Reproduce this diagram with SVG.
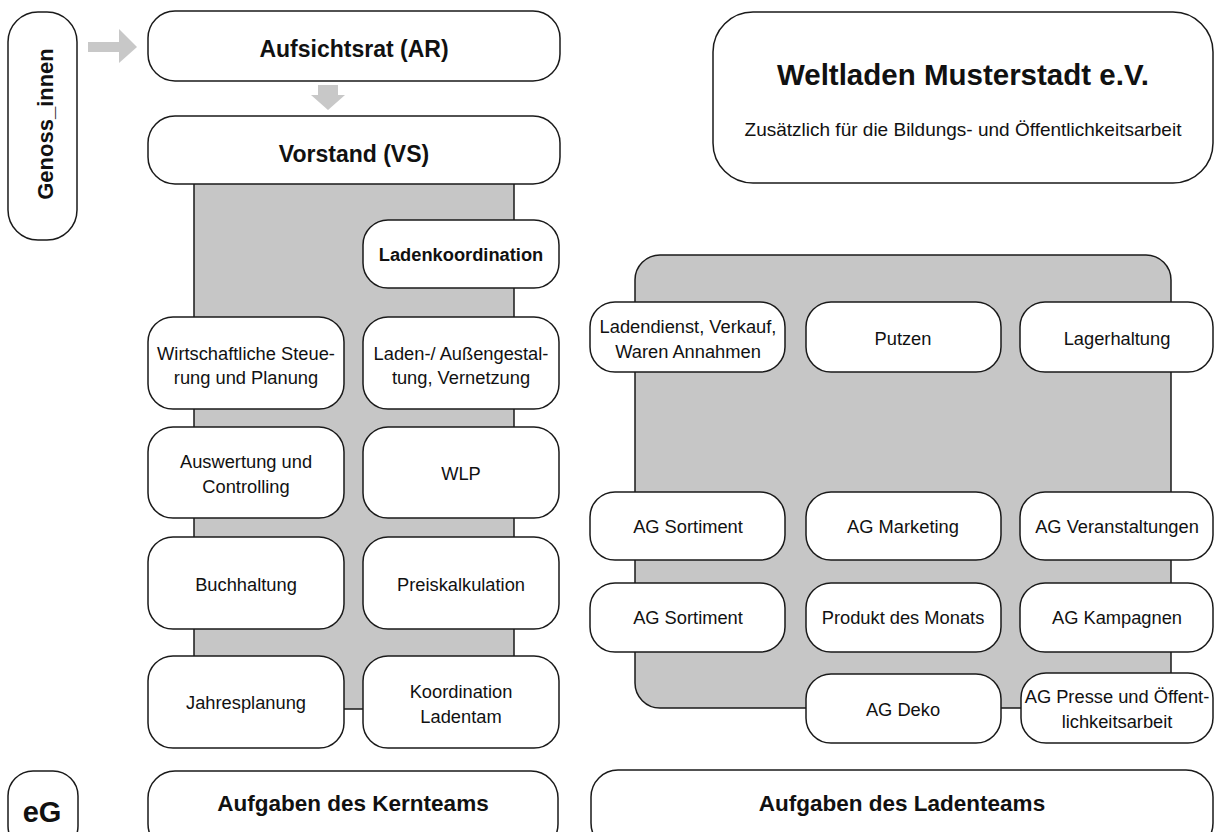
<svg xmlns="http://www.w3.org/2000/svg" width="1215" height="832" viewBox="0 0 1215 832">
<style>
.box{fill:#ffffff;stroke:#1a1a1a;stroke-width:1.5}
.panel{fill:#c6c6c6;stroke:#1a1a1a;stroke-width:1.5}
.arrow{fill:#c8c8c8;stroke:none}
text{font-family:"Liberation Sans",Arial,sans-serif;fill:#111111;text-anchor:middle}
.t{font-size:18.3px}
.b{font-size:23px;font-weight:bold}
.bb{font-size:22.5px;font-weight:bold}
.bs{font-size:18.3px;font-weight:bold}
</style>
<rect width="1215" height="832" fill="#ffffff"/>

<g id="backgrounds">
  <rect class="panel" x="194" y="170" width="320" height="539"/>
  <rect class="panel" x="635" y="255" width="536" height="453" rx="25" ry="25"/>
</g>

<g id="connectors">
  <polygon class="arrow" points="88,42 119,42 119,29 137,47 119,63 119,52 88,52"/>
  <polygon class="arrow" points="318,85 338,85 338,95 345,95 328,110 311,95 318,95"/>
</g>

<g id="genoss">
  <rect class="box" x="8" y="12" width="69" height="228" rx="30" ry="30"/>
  <text class="b" transform="translate(53,124) rotate(-90)" style="font-size:22px">Genoss_innen</text>
</g>

<g id="aufsichtsrat">
  <rect class="box" x="148" y="11" width="412" height="70" rx="27" ry="27"/>
  <text class="b" x="354" y="57">Aufsichtsrat (AR)</text>
</g>

<g id="vorstand">
  <rect class="box" x="148" y="116" width="412" height="68" rx="27" ry="27"/>
  <text class="b" x="354" y="162">Vorstand (VS)</text>
</g>

<g id="weltladen">
  <rect class="box" x="713" y="12" width="500" height="171" rx="40" ry="40"/>
  <text x="963" y="85" style="font-size:29.5px;font-weight:bold">Weltladen Musterstadt e.V.</text>
  <text x="963" y="136" style="font-size:19px">Zusätzlich für die Bildungs- und Öffentlichkeitsarbeit</text>
</g>

<g id="ladenkoordination">
  <rect class="box" x="363" y="220" width="196" height="68" rx="25" ry="25"/>
  <text class="bs" x="461" y="261">Ladenkoordination</text>
</g>

<g id="wirtschaftliche">
  <rect class="box" x="148" y="317" width="196" height="92" rx="25" ry="25"/>
  <text class="t" x="246" y="360">Wirtschaftliche Steue-</text>
  <text class="t" x="246" y="384">rung und Planung</text>
</g>
<g id="ladengestaltung">
  <rect class="box" x="363" y="317" width="196" height="92" rx="25" ry="25"/>
  <text class="t" x="461" y="360">Laden-/ Außengestal-</text>
  <text class="t" x="461" y="384">tung, Vernetzung</text>
</g>

<g id="auswertung">
  <rect class="box" x="148" y="427" width="196" height="91" rx="25" ry="25"/>
  <text class="t" x="246" y="468">Auswertung und</text>
  <text class="t" x="246" y="493">Controlling</text>
</g>
<g id="wlp">
  <rect class="box" x="363" y="427" width="196" height="91" rx="25" ry="25"/>
  <text class="t" x="461" y="480">WLP</text>
</g>

<g id="buchhaltung">
  <rect class="box" x="148" y="537" width="196" height="92" rx="25" ry="25"/>
  <text class="t" x="246" y="591">Buchhaltung</text>
</g>
<g id="preiskalkulation">
  <rect class="box" x="363" y="537" width="196" height="92" rx="25" ry="25"/>
  <text class="t" x="461" y="591">Preiskalkulation</text>
</g>

<g id="jahresplanung">
  <rect class="box" x="148" y="656" width="196" height="92" rx="25" ry="25"/>
  <text class="t" x="246" y="709">Jahresplanung</text>
</g>
<g id="koordination">
  <rect class="box" x="363" y="656" width="196" height="92" rx="25" ry="25"/>
  <text class="t" x="461" y="698">Koordination</text>
  <text class="t" x="461" y="723">Ladentam</text>
</g>

<g id="ladendienst">
  <rect class="box" x="590" y="302" width="195" height="70" rx="25" ry="25"/>
  <text class="t" x="688" y="333">Ladendienst, Verkauf,</text>
  <text class="t" x="688" y="358">Waren Annahmen</text>
</g>
<g id="putzen">
  <rect class="box" x="806" y="302" width="195" height="70" rx="25" ry="25"/>
  <text class="t" x="903" y="345">Putzen</text>
</g>
<g id="lagerhaltung">
  <rect class="box" x="1020" y="302" width="193" height="70" rx="25" ry="25"/>
  <text class="t" x="1117" y="345">Lagerhaltung</text>
</g>

<g id="ag-sortiment-1">
  <rect class="box" x="590" y="492" width="195" height="68" rx="25" ry="25"/>
  <text class="t" x="688" y="533">AG Sortiment</text>
</g>
<g id="ag-marketing">
  <rect class="box" x="806" y="492" width="195" height="68" rx="25" ry="25"/>
  <text class="t" x="903" y="533">AG Marketing</text>
</g>
<g id="ag-veranstaltungen">
  <rect class="box" x="1020" y="492" width="193" height="68" rx="25" ry="25"/>
  <text class="t" x="1117" y="533">AG Veranstaltungen</text>
</g>

<g id="ag-sortiment-2">
  <rect class="box" x="590" y="583" width="195" height="69" rx="25" ry="25"/>
  <text class="t" x="688" y="624">AG Sortiment</text>
</g>
<g id="produkt-des-monats">
  <rect class="box" x="806" y="583" width="195" height="69" rx="25" ry="25"/>
  <text class="t" x="903" y="624">Produkt des Monats</text>
</g>
<g id="ag-kampagnen">
  <rect class="box" x="1020" y="583" width="193" height="69" rx="25" ry="25"/>
  <text class="t" x="1117" y="624">AG Kampagnen</text>
</g>

<g id="ag-deko">
  <rect class="box" x="806" y="674" width="195" height="69" rx="25" ry="25"/>
  <text class="t" x="903" y="716">AG Deko</text>
</g>
<g id="ag-presse">
  <rect class="box" x="1021" y="673" width="192" height="70" rx="25" ry="25"/>
  <text class="t" x="1117" y="703">AG Presse und Öffent-</text>
  <text class="t" x="1117" y="728">lichkeitsarbeit</text>
</g>

<g id="eg">
  <rect class="box" x="8" y="771" width="70" height="80" rx="25" ry="25"/>
  <text x="42" y="822" style="font-size:29px;font-weight:bold">eG</text>
</g>
<g id="kernteam">
  <rect class="box" x="148" y="771" width="410" height="80" rx="27" ry="27"/>
  <text class="bb" x="353" y="811">Aufgaben des Kernteams</text>
</g>
<g id="ladenteam">
  <rect class="box" x="591" y="770" width="622" height="80" rx="27" ry="27"/>
  <text class="bb" x="902" y="811">Aufgaben des Ladenteams</text>
</g>
</svg>
